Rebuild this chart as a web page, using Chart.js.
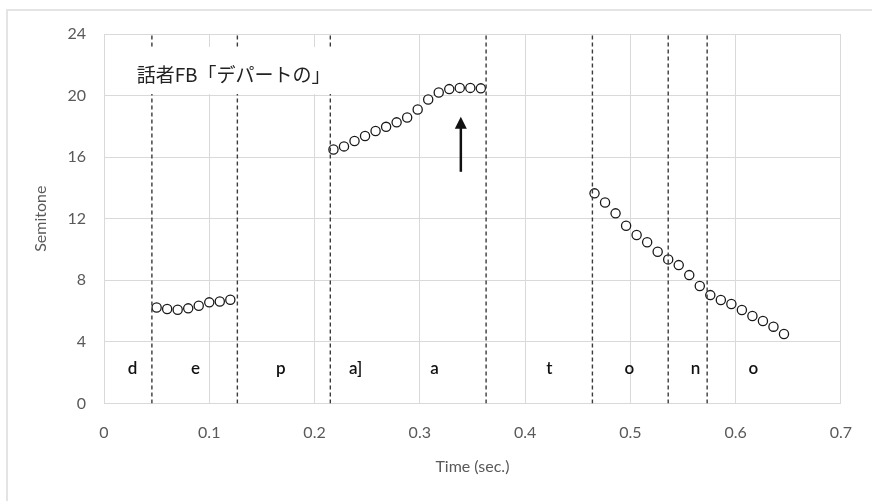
<!DOCTYPE html>
<html>
<head>
<meta charset="utf-8">
<script src="https://cdn.jsdelivr.net/npm/chart.js@4.4.1/dist/chart.umd.min.js"></script>
<style>
  html, body { margin: 0; padding: 0; background: #fff; overflow: hidden; }
  #wrap { position: relative; width: 872px; height: 501px; overflow: hidden; }
  #frame { position: absolute; left: 6px; top: 9px; width: 900px; height: 600px;
           border-left: 2px solid #e4e4e4; border-top: 2px solid #e4e4e4; }
  canvas { position: absolute; left: 0; top: 0; }
</style>
</head>
<body>
<div id="wrap">
  <div id="frame"></div>
  <canvas id="grafico" width="872" height="501"></canvas>
</div>
<script>
// Segmento "e"
const tiempoE = [0.05, 0.06, 0.07, 0.08, 0.09, 0.10, 0.11, 0.12];
const semitonoE = [6.24, 6.14, 6.09, 6.18, 6.35, 6.57, 6.63, 6.74];

// Segmento "a] a"
const tiempoA = [0.218, 0.228, 0.238, 0.248, 0.258, 0.268, 0.278, 0.288, 0.298, 0.308,
                 0.318, 0.328, 0.338, 0.348, 0.358];
const semitonoA = [16.5, 16.7, 17.05, 17.37, 17.7, 17.97, 18.26, 18.58, 19.1, 19.75,
                   20.2, 20.42, 20.5, 20.5, 20.47];

// Segmento "o n o"
const tiempoO = [0.466, 0.476, 0.486, 0.496, 0.506, 0.516, 0.526, 0.536, 0.546, 0.556,
                 0.566, 0.576, 0.586, 0.596, 0.606, 0.616, 0.626, 0.636, 0.646];
const semitonoO = [13.65, 13.06, 12.35, 11.55, 10.94, 10.47, 9.86, 9.36, 8.99, 8.34,
                   7.63, 7.04, 6.72, 6.46, 6.07, 5.68, 5.36, 4.99, 4.51];

// Límites de segmentos (líneas punteadas)
const limites = [0.0455, 0.1267, 0.215, 0.363, 0.464, 0.536, 0.573];

// Etiquetas de segmentos
const segmentos = ['d', 'e', 'p', 'a]', 'a', 't', 'o', 'n', 'o'];
const segmentosX = [0.027, 0.087, 0.168, 0.239, 0.314, 0.423, 0.499, 0.562, 0.617];
const segmentosY = 2.3;

const titulo = '話者FB「デパートの」';
const flechaX = 0.339;
const flechaDesde = 15.05;
const flechaHasta = 18.62;

const xMin = 0, xMax = 0.7, xPaso = 0.1;
const yMin = 0, yMax = 24, yPaso = 4;

function puntos(xs, ys) {
  return xs.map((v, i) => ({ x: v, y: ys[i] }));
}

const estiloPunto = {
  showLine: false,
  pointRadius: 4.6,
  pointBorderWidth: 1.3,
  pointBorderColor: '#1a1a1a',
  pointBackgroundColor: '#ffffff'
};

const datasets = [];
limites.forEach(l => {
  datasets.push({
    data: [{ x: l, y: yMin }, { x: l, y: yMax }],
    showLine: true,
    borderColor: '#3a3a3a',
    borderWidth: 1.4,
    borderDash: [4, 3],
    pointRadius: 0
  });
});
datasets.push(Object.assign({ data: puntos(tiempoE, semitonoE) }, estiloPunto));
datasets.push(Object.assign({ data: puntos(tiempoA, semitonoA) }, estiloPunto));
datasets.push(Object.assign({ data: puntos(tiempoO, semitonoO) }, estiloPunto));

// Anotaciones: recuadro del título, flecha y etiquetas
const anotaciones = {
  id: 'anotaciones',
  afterDatasetsDraw(chart) {
    const { ctx, scales: { x, y } } = chart;
    ctx.save();

    // recuadro blanco del título
    const bx0 = x.getPixelForValue(0.023), bx1 = x.getPixelForValue(0.225);
    const by0 = y.getPixelForValue(23.15), by1 = y.getPixelForValue(20.1);
    ctx.fillStyle = '#ffffff';
    ctx.fillRect(bx0, by0, bx1 - bx0, by1 - by0);

    ctx.fillStyle = '#222222';
    ctx.font = '19px "Noto Sans CJK JP"';
    ctx.textAlign = 'left';
    ctx.textBaseline = 'middle';
    ctx.fillText(titulo, x.getPixelForValue(0.031), y.getPixelForValue(21.33));

    // flecha
    const fx = x.getPixelForValue(flechaX);
    const f0 = y.getPixelForValue(flechaDesde);
    const f1 = y.getPixelForValue(flechaHasta);
    ctx.strokeStyle = '#111111';
    ctx.lineWidth = 2.5;
    ctx.beginPath();
    ctx.moveTo(fx, f0);
    ctx.lineTo(fx, f1 + 10);
    ctx.stroke();
    ctx.fillStyle = '#111111';
    ctx.beginPath();
    ctx.moveTo(fx, f1);
    ctx.lineTo(fx - 6, f1 + 12);
    ctx.lineTo(fx + 6, f1 + 12);
    ctx.closePath();
    ctx.fill();

    // etiquetas de segmentos
    ctx.fillStyle = '#111111';
    ctx.font = '600 17px Lato';
    ctx.textAlign = 'center';
    segmentos.forEach((s, i) => {
      ctx.fillText(s, x.getPixelForValue(segmentosX[i]), y.getPixelForValue(segmentosY));
    });
    ctx.restore();
  }
};

const fuenteEje = { family: 'Lato', size: 16 };

new Chart(document.getElementById('grafico'), {
  type: 'scatter',
  data: { datasets: datasets },
  options: {
    responsive: false,
    animation: false,
    events: [],
    layout: { padding: { top: 34, right: 30, left: 22, bottom: 0 } },
    plugins: { legend: { display: false }, tooltip: { enabled: false } },
    scales: {
      x: {
        type: 'linear',
        min: xMin, max: xMax,
        afterFit: s => { s.height = 97.5; },
        ticks: {
          stepSize: xPaso,
          padding: 20,
          color: '#595959',
          font: fuenteEje,
          callback: v => v === 0 ? '0' : (+v.toFixed(1)).toString()
        },
        grid: { color: '#d9d9d9', drawTicks: false },
        border: { color: '#d9d9d9' },
        title: {
          display: true, text: 'Time (sec.)', color: '#595959',
          font: fuenteEje, padding: { top: 0, bottom: 25 }
        }
      },
      y: {
        min: yMin, max: yMax,
        afterFit: s => { s.width = 82; },
        ticks: {
          stepSize: yPaso,
          padding: 18,
          color: '#595959',
          font: fuenteEje
        },
        grid: { color: '#d9d9d9', drawTicks: false },
        border: { color: '#d9d9d9' },
        title: {
          display: true, text: 'Semitone', color: '#595959',
          font: fuenteEje, padding: { top: 9, bottom: 0 }
        }
      }
    }
  },
  plugins: [anotaciones]
});
</script>
</body>
</html>
